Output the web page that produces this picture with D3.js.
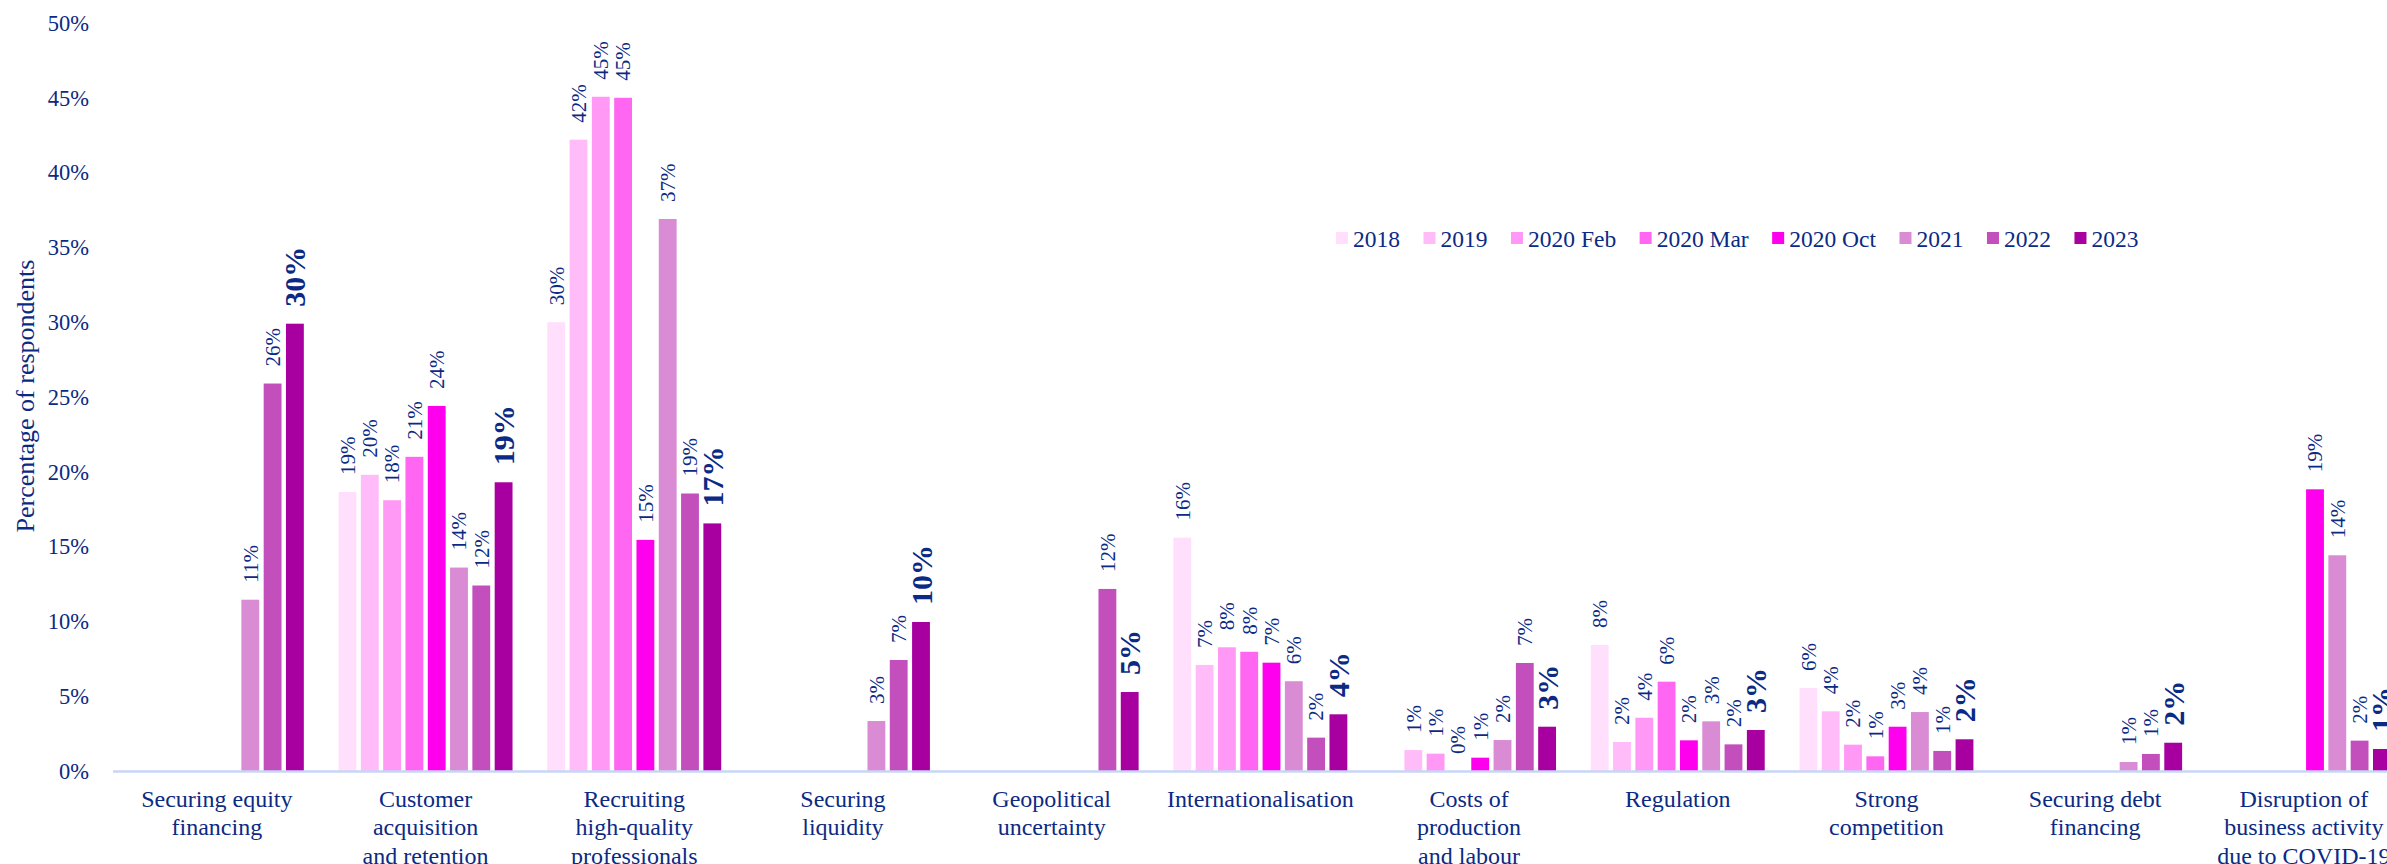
<!DOCTYPE html>
<html><head><meta charset="utf-8">
<script src="https://cdn.jsdelivr.net/npm/d3@7"></script>
<style>
body{margin:0;background:#fff;}
svg{display:block;font-family:"Liberation Serif","Times New Roman",serif;}
</style>
</head><body>
<svg id="chart" width="2387" height="864"></svg>
<script>
// ---- DATA ----
const categories = [
  "Securing equity\nfinancing",
  "Customer\nacquisition\nand retention",
  "Recruiting\nhigh-quality\nprofessionals",
  "Securing\nliquidity",
  "Geopolitical\nuncertainty",
  "Internationalisation",
  "Costs of\nproduction\nand labour",
  "Regulation",
  "Strong\ncompetition",
  "Securing debt\nfinancing",
  "Disruption of\nbusiness activity\ndue to COVID-19"
];
const seriesNames = ["2018", "2019", "2020 Feb", "2020 Mar", "2020 Oct", "2021", "2022", "2023"];
const s2018    = [null, 18.65, 30.0,  null, null,  15.6, null, 8.42, 5.55, null, null];
const s2019    = [null, 19.8,  42.2,  null, null,  7.09, 1.4,  1.94, 3.99, null, null];
const s2020Feb = [null, 18.1,  45.07, null, null,  8.27, 1.16, 3.56, 1.76, null, null];
const s2020Mar = [null, 21.0,  45.0,  null, null,  7.97, 0,    5.97, 0.98, null, null];
const s2020Oct = [null, 24.4,  15.45, null, null,  7.24, 0.89, 2.05, 2.96, null, 18.83];
const s2021    = [11.45, 13.6, 36.9,  3.34, null,  6.0,  2.07, 3.32, 3.94, 0.6,  14.42];
const s2022    = [25.9, 12.4,  18.55, 7.42, 12.17, 2.23, 7.22, 1.78, 1.34, 1.14, 2.03];
const s2023    = [29.9, 19.3,  16.55, 9.96, 5.28,  3.79, 2.96, 2.74, 2.12, 1.89, 1.47];
const seriesValues = [s2018, s2019, s2020Feb, s2020Mar, s2020Oct, s2021, s2022, s2023];
const yTicks = [0, 5, 10, 15, 20, 25, 30, 35, 40, 45, 50];
const yTitle = "Percentage of respondents";

// ---- STYLE ----
const colors = ["#ffdffb", "#ffbcf8", "#ff99f5", "#ff66f1", "#ff00ee", "#d98bd4", "#c34fbd", "#a800a0"];
const textColor = "#0b2a84";
const axisColor = "#c8d6f6";

const svg = d3.select("#chart");
const rows = categories.map((c, i) => ({cat: c, vals: seriesValues.map((s, j) => ({series: seriesNames[j], si: j, v: s[i]}))}));

const step = 208.7;
const x0 = d3.scaleBand().domain(categories).range([112.5, 112.5 + step * categories.length]).padding(0);
const groupW = 178.4;
const x1 = d3.scaleBand().domain(seriesNames).range([0, groupW]).paddingInner(0.2).paddingOuter(0.1);
const y = d3.scaleLinear().domain([0, 50]).range([771, 23]);
const color = d3.scaleOrdinal().domain(seriesNames).range(colors);
const groupOff = (x0.bandwidth() - groupW) / 2;

// Y axis
const yAxis = svg.append("g").attr("transform", "translate(112,0)")
  .call(d3.axisLeft(y).tickValues(yTicks).tickFormat(d => d + "%").tickSize(0).tickPadding(23));
yAxis.select(".domain").remove();
yAxis.selectAll("text").attr("fill", textColor).style("font-size", "22.5px")
  .style("font-family", "'Liberation Serif','Times New Roman',serif");

// Y title
svg.append("text").attr("transform", "translate(34,396) rotate(-90)")
  .attr("text-anchor", "middle").attr("fill", textColor).style("font-size", "26px").text(yTitle);

// Bars
const groups = svg.append("g").selectAll("g").data(rows).join("g")
  .attr("transform", d => `translate(${x0(d.cat) + groupOff},0)`);
groups.selectAll("rect").data(d => d.vals.filter(v => v.v !== null)).join("rect")
  .attr("x", d => x1(d.series))
  .attr("width", x1.bandwidth())
  .attr("y", d => y(d.v))
  .attr("height", d => y(0) - y(d.v))
  .attr("fill", d => color(d.series));

// Value labels
groups.selectAll("text").data(d => d.vals.filter(v => v.v !== null)).join("text")
  .attr("transform", d => `translate(${x1(d.series) + x1.bandwidth() / 2},${y(d.v) - 17}) rotate(-90)`)
  .attr("dy", "0.35em")
  .attr("text-anchor", "start")
  .attr("fill", textColor)
  .style("font-size", d => d.si === 7 ? "30px" : "21px")
  .style("font-weight", d => d.si === 7 ? "bold" : "normal")
  .text(d => Math.round(d.v) + "%");

// X axis
const xAxis = svg.append("g").attr("transform", `translate(0,${y(0)})`)
  .call(d3.axisBottom(x0).tickSize(0).tickFormat(""));
xAxis.select(".domain").attr("stroke", axisColor).attr("stroke-width", 2.5);
xAxis.selectAll(".tick text").remove();
xAxis.selectAll(".tick").append("text")
  .attr("fill", textColor)
  .attr("text-anchor", "middle")
  .style("font-size", "24px")
  .style("font-family", "'Liberation Serif','Times New Roman',serif")
  .each(function(d) {
    const t = d3.select(this);
    d.split("\n").forEach((line, i) => {
      t.append("tspan").attr("x", 0).attr("y", 36 + i * 28.4).text(line);
    });
  });

// Legend
const legend = svg.append("g");
let lx = 1336;
seriesNames.forEach((name, i) => {
  legend.append("rect").attr("x", lx).attr("y", 232).attr("width", 12).attr("height", 12).attr("fill", color(name));
  const t = legend.append("text").attr("x", lx + 17).attr("y", 247).attr("fill", textColor)
    .style("font-size", "23.5px").text(name);
  lx += 17 + t.node().getComputedTextLength() + 23.5;
});
</script>
</body></html>
